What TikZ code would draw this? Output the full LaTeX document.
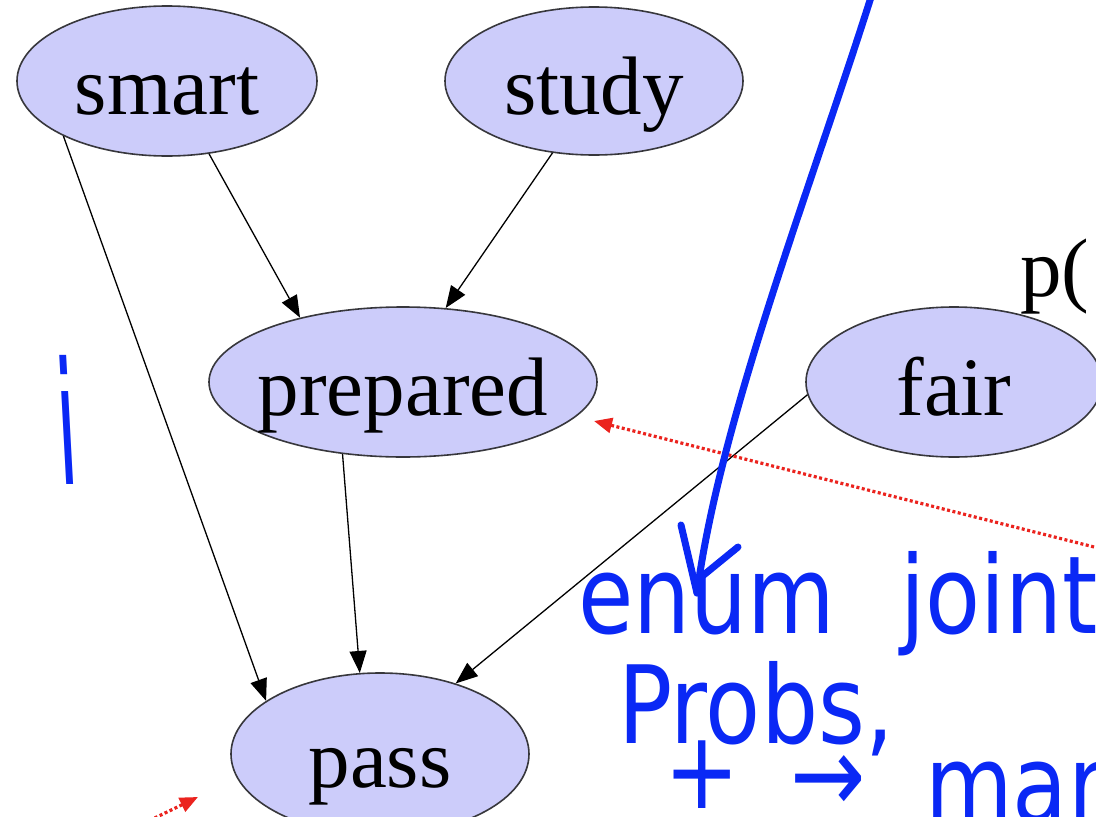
\documentclass[tikz,border=0pt]{standalone}
\usepackage{fontspec}
\setmainfont{Liberation Serif}
\newfontfamily\handfont{DejaVu Sans}
\usetikzlibrary{shapes.geometric,arrows.meta}
\definecolor{lav}{RGB}{204,204,250}
\definecolor{rimgray}{RGB}{55,55,60}
\definecolor{inkblue}{RGB}{10,40,245}
\definecolor{dotred}{RGB}{235,35,30}
\newcommand{\vlabel}[1]{\makebox[0pt]{\raisebox{-33pt}[0pt][0pt]{#1}}}
\tikzset{
  var/.style={ellipse, draw=rimgray, line width=1.6pt, fill=lav, inner sep=0pt,
    font=\fontsize{83}{90}\selectfont},
  edge/.style={draw=black, line width=1.3pt, -{Triangle[length=22pt,width=17pt]}},
  reddot/.style={draw=dotred, line width=3.2pt, dash pattern=on 3pt off 2.5pt,
    -{Triangle[length=18pt,width=15pt]}},
  ink/.style={draw=inkblue, line width=7pt, line cap=round, line join=round},
  handtxt/.style={text=inkblue, inner sep=0pt, transform shape,
    font=\handfont\fontsize{90}{90}\selectfont, yscale=1.2},
}
\begin{document}
\begin{tikzpicture}[x=1pt,y=-1pt]
\useasboundingbox (0,0) rectangle (1096,817);
\clip (0,0) rectangle (1096,817);
\fill[white] (0,0) rectangle (1096,817);

% nodes
\node[var, minimum width=300pt, minimum height=150pt] (smart) at (167,81) {\vlabel{smart}};
\node[var, minimum width=298pt, minimum height=148pt] (study) at (594,81) {\vlabel{study}};
\node[var, minimum width=388pt, minimum height=150pt] (prepared) at (403,382) {\vlabel{prepared}};
\node[var, minimum width=296pt, minimum height=150pt] (fair) at (954,382) {\vlabel{fair}};
\node[var, minimum width=298pt, minimum height=162pt] (pass) at (380,754) {\vlabel{pass}};
\node[font=\fontsize{83}{90}\selectfont, inner sep=0pt, anchor=base west] (ptext) at (1020,296) {p(};

% edges
\draw[edge] (smart.-60) -- (prepared.148);
\draw[edge] (study.-120) -- (prepared.60);
\draw[edge] (smart.208) -- (pass.155);
\draw[edge] (prepared.230) -- (pass.104);
\draw[edge] (fair.185) -- (pass.43);

% red dotted annotations
\coordinate (r1s) at (1110,551);
\coordinate (r1e) at (594,421);
\draw[reddot] (r1s) -- (r1e);
\coordinate (r2s) at (130,830);
\coordinate (r2e) at (198,797);
\draw[reddot] (r2s) -- (r2e);

% blue ink annotations
\coordinate (c0) at (872,-6);
\coordinate (k2) at (697,593);
\draw[ink] (c0) .. controls (810,190) and (720,420) .. (k2);
\coordinate (k1) at (681,525);
\coordinate (k3) at (738,547);
\coordinate (k4) at (700,578);
\draw[ink] (k1) -- (k2);
\draw[ink] (k3) -- (k4);

\node[handtxt, font=\handfont\fontsize{170}{170}\selectfont, xscale=0.45, yscale=1/1.2, xslant=-0.12, anchor=base] (ii) at (70,484) {i};
\node[handtxt, anchor=base west] (enum) at (578,633) {enum};
\node[handtxt, anchor=base west] (joint) at (900,633) {joint};
\node[handtxt, anchor=base west] (probs) at (618,743) {Probs,};
\node[handtxt, anchor=base west] (plus) at (664,808) {+};
\node[handtxt, anchor=base west] (arr) at (790,812) {→};
\node[handtxt, anchor=base west] (marg) at (925,822) {marg};
\end{tikzpicture}
\end{document}
